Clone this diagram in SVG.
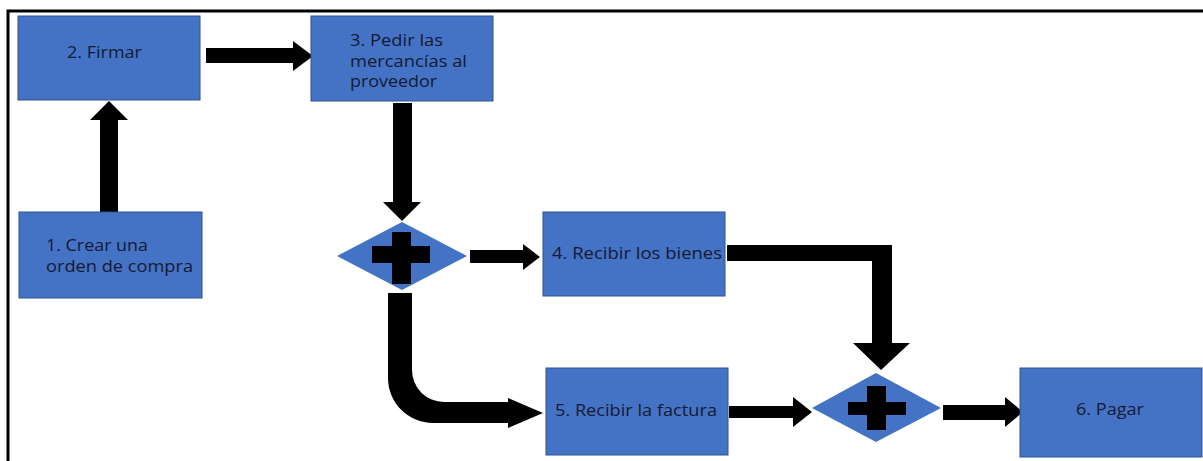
<svg xmlns="http://www.w3.org/2000/svg" width="1203" height="461" viewBox="0 0 1203 461">
<style>
.box{fill:#4472C4;stroke:#2F528F;stroke-width:1}
.dia{fill:#4472C4}
.t{font-family:"Open Sans","DejaVu Sans",sans-serif;font-size:15.5px;fill:#141a33}
.arr{fill:#000}
</style>
<rect width="1203" height="461" fill="#fff"/>
<path d="M8,470 L8,11 L1210,11" fill="none" stroke="#000" stroke-width="3"/>
<g id="connectors">
<path class="arr" d="M100,212 L100,120 L90,120 L109,101 L128,120 L118,120 L118,212 Z"/>
<path class="arr" d="M206,48 L293,48 L293,41 L313,56 L293,71 L293,63 L206,63 Z"/>
<path class="arr" d="M393,103 L412,103 L412,202 L421,202 L402,221 L383,202 L393,202 Z"/>
<path class="arr" d="M470,250 L523,250 L523,244 L540,257 L523,270 L523,263 L470,263 Z"/>
<path class="arr" d="M388,293 L412,293 L412,370 A32,32 0 0 0 444,402 L508,402 L508,398 L543,413 L508,428 L508,423 L433,423 A45,45 0 0 1 388,378 Z"/>
<path class="arr" d="M727,245 L892,245 L892,343 L910,343 L881,370 L853,343 L872,343 L872,261 L727,261 Z"/>
<path class="arr" d="M729,406 L793,406 L793,397 L812,412 L793,427 L793,418 L729,418 Z"/>
<path class="arr" d="M943,405 L1005,405 L1005,397 L1023,412 L1005,427 L1005,420 L943,420 Z"/>
</g>
<g id="n1"><rect class="box" x="19" y="212" width="183" height="86"/><text class="t" x="46" y="251" textLength="102" lengthAdjust="spacingAndGlyphs">1. Crear una</text><text class="t" x="46" y="272" textLength="147" lengthAdjust="spacingAndGlyphs">orden de compra</text></g>
<g id="n2"><rect class="box" x="18" y="16" width="182" height="84"/><text class="t" x="67" y="58" textLength="75" lengthAdjust="spacingAndGlyphs">2. Firmar</text></g>
<g id="n3"><rect class="box" x="311" y="16" width="182" height="85"/><text class="t" x="350" y="46" textLength="93" lengthAdjust="spacingAndGlyphs">3. Pedir las</text><text class="t" x="350" y="67" textLength="117" lengthAdjust="spacingAndGlyphs">mercancías al</text><text class="t" x="350" y="87" textLength="87" lengthAdjust="spacingAndGlyphs">proveedor</text></g>
<g id="g1"><path class="dia" d="M337,256 L402,222 L467,256 L402,290 Z"/><rect class="arr" x="372" y="246" width="58" height="17"/><rect class="arr" x="392" y="232" width="19" height="52"/></g>
<g id="n4"><rect class="box" x="543" y="212" width="182" height="84"/><text class="t" x="552" y="259" textLength="170" lengthAdjust="spacingAndGlyphs">4. Recibir los bienes</text></g>
<g id="n5"><rect class="box" x="546" y="368" width="182" height="87"/><text class="t" x="555" y="416" textLength="162" lengthAdjust="spacingAndGlyphs">5. Recibir la factura</text></g>
<g id="g2"><path class="dia" d="M812,408 L876,373 L941,408 L876,442 Z"/><rect class="arr" x="848" y="402" width="58" height="13"/><rect class="arr" x="867" y="386" width="19" height="44"/></g>
<g id="n6"><rect class="box" x="1020" y="368" width="182" height="89"/><text class="t" x="1076" y="415" textLength="68" lengthAdjust="spacingAndGlyphs">6. Pagar</text></g>
</svg>
